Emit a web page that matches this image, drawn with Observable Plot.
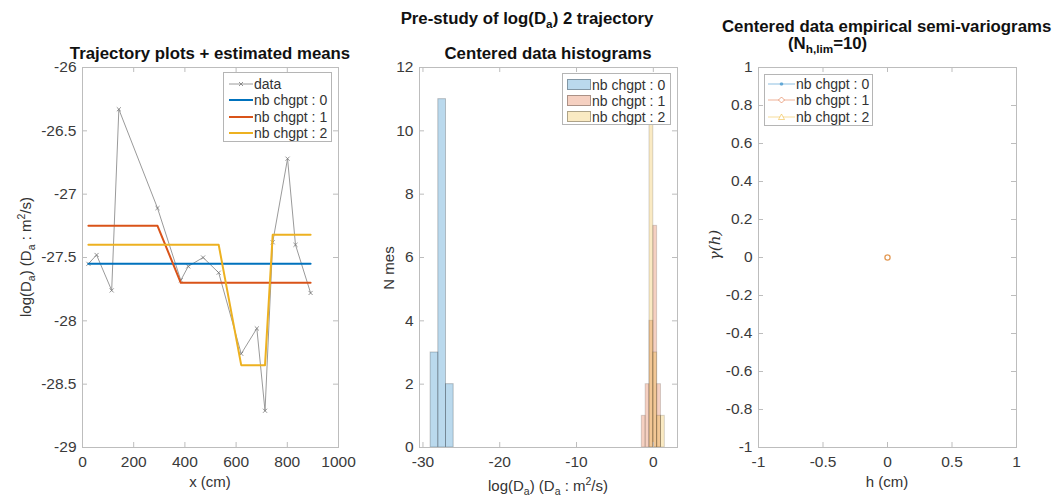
<!DOCTYPE html>
<html><head><meta charset="utf-8">
<script src="https://cdn.jsdelivr.net/npm/d3@7"></script>
<script src="https://cdn.jsdelivr.net/npm/@observablehq/plot@0.6"></script>
<style>
body{margin:0;background:#fff;font-family:"Liberation Sans",Arial,sans-serif;}
#wrap{position:relative;width:1054px;height:500px;overflow:hidden;background:#fff;}
.abs{position:absolute;white-space:nowrap;line-height:1;}
.ttl{font-weight:bold;font-size:16.8px;color:#111;}
.lab{font-size:15px;color:#333;}
.leg{position:absolute;background:#fff;border:1px solid #b5b5b5;box-sizing:border-box;}
.leg .row{position:absolute;font-size:14px;color:#333;white-space:nowrap;line-height:1;}
sub,sup{font-size:70%;line-height:0;}
</style></head><body><div id="wrap"></div>
<script>
// ---------- data ----------
const xPos = [23, 55, 114, 142, 293, 384, 413, 471, 532, 620, 681, 713, 743, 801, 832, 891];
const logD = [-27.55, -27.48, -27.76, -26.33, -27.11, -27.68, -27.57, -27.50, -27.62, -28.26, -28.06, -28.71, -27.38, -26.72, -27.40, -27.78];
const fit0 = [-27.55, -27.55, -27.55, -27.55, -27.55, -27.55, -27.55, -27.55, -27.55, -27.55, -27.55, -27.55, -27.55, -27.55, -27.55, -27.55];
const fit1 = [-27.25, -27.25, -27.25, -27.25, -27.25, -27.70, -27.70, -27.70, -27.70, -27.70, -27.70, -27.70, -27.70, -27.70, -27.70, -27.70];
const fit2 = [-27.40, -27.40, -27.40, -27.40, -27.40, -27.40, -27.40, -27.40, -27.40, -28.35, -28.35, -28.35, -27.32, -27.32, -27.32, -27.32];

const hist0Edges = [-29, -28, -27, -26];
const hist0Counts = [3, 11, 2];
const histCEdges = [-1.5, -1, -0.5, 0, 0.5, 1, 1.5];
const hist1Counts = [1, 2, 4, 7, 2, 0];
const hist2Counts = [0, 0, 11, 3, 1, 1];

const semiH = [0];
const semiG0 = [0];
const semiG1 = [0];
const semiG2 = [0];

const seriesLabels = ["nb chgpt : 0", "nb chgpt : 1", "nb chgpt : 2"];
const dataLabel = "data";

const xTicks1 = [0, 200, 400, 600, 800, 1000];
const yTicks1 = [-29, -28.5, -28, -27.5, -27, -26.5, -26];
const xTicks2 = [-30, -20, -10, 0];
const yTicks2 = [0, 2, 4, 6, 8, 10, 12];
const xTicks3 = [-1, -0.5, 0, 0.5, 1];
const yTicks3 = [-1, -0.8, -0.6, -0.4, -0.2, 0, 0.2, 0.4, 0.6, 0.8, 1];

// ---------- style ----------
const C = ["#0072BD", "#D95319", "#EDB120"];
const gray = "#9a9a9a";
const frameCol = "#bdbdbd";
const H = 500, MT = 67, MB = 53, PH = H - MT - MB;
const fmt = d => String(d);
const wrap = document.getElementById("wrap");

function boxAxes(xt, yt, pw) {
  return [
    Plot.frame({stroke: frameCol}),
    Plot.tickX(xt, {x: d => d, insetTop: PH - 5, stroke: frameCol}),
    Plot.tickX(xt, {x: d => d, insetBottom: PH - 5, stroke: frameCol}),
    Plot.tickY(yt, {y: d => d, insetLeft: pw - 5, stroke: frameCol}),
    Plot.tickY(yt, {y: d => d, insetRight: pw - 5, stroke: frameCol}),
    Plot.axisX(xt, {tickSize: 0, tickPadding: 8, tickFormat: fmt, label: null, fill: "#3a3a3a"}),
    Plot.axisY(yt, {tickSize: 0, tickPadding: 6, tickFormat: fmt, label: null, fill: "#3a3a3a"})
  ];
}
function place(svg, left) {
  svg.style.position = "absolute";
  svg.style.left = left + "px";
  svg.style.top = "0px";
  wrap.appendChild(svg);
}
const baseStyle = {fontFamily: "'Liberation Sans', Arial, sans-serif", fontSize: "15.5px", background: "transparent", overflow: "visible"};

// ---------- panel 1 ----------
{
  const W = 345, ML = 82, MR = 7;
  const pts = xPos.map((x, i) => ({x, y: logD[i], f0: fit0[i], f1: fit1[i], f2: fit2[i]}));
  const svg = Plot.plot({
    width: W, height: H, marginLeft: ML, marginRight: MR, marginTop: MT, marginBottom: MB,
    style: baseStyle,
    x: {domain: [0, 1000]}, y: {domain: [-29, -26]},
    marks: [
      ...boxAxes(xTicks1, yTicks1, W - ML - MR),
      Plot.line(pts, {x: "x", y: "y", stroke: gray, strokeWidth: 1}),
      Plot.dot(pts, {x: "x", y: "y", symbol: "times", r: 2, stroke: "#777", strokeWidth: 0.8}),
      Plot.line(pts, {x: "x", y: "f0", stroke: C[0], strokeWidth: 2}),
      Plot.line(pts, {x: "x", y: "f1", stroke: C[1], strokeWidth: 2}),
      Plot.line(pts, {x: "x", y: "f2", stroke: C[2], strokeWidth: 2})
    ]
  });
  place(svg, 0);
}

// ---------- panel 2 ----------
{
  const W = 335, ML = 69, MR = 8;
  const mk = (edges, counts) => counts.map((c, i) => ({x1: edges[i], x2: edges[i + 1], y: c})).filter(d => d.y > 0);
  const svg = Plot.plot({
    width: W, height: H, marginLeft: ML, marginRight: MR, marginTop: MT, marginBottom: MB,
    style: baseStyle,
    x: {domain: [-30.45, 3.15]}, y: {domain: [0, 12]},
    marks: [
      Plot.rectY(mk(hist0Edges, hist0Counts), {x1: "x1", x2: "x2", y: "y", fill: C[0], fillOpacity: 0.27, stroke: "#000", strokeOpacity: 0.22}),
      Plot.rectY(mk(histCEdges, hist1Counts), {x1: "x1", x2: "x2", y: "y", fill: C[1], fillOpacity: 0.27, stroke: "#000", strokeOpacity: 0.15}),
      Plot.rectY(mk(histCEdges, hist2Counts), {x1: "x1", x2: "x2", y: "y", fill: C[2], fillOpacity: 0.27, stroke: "#000", strokeOpacity: 0.15}),
      ...boxAxes(xTicks2, yTicks2, W - ML - MR)
    ]
  });
  place(svg, 350);
}

// ---------- panel 3 ----------
{
  const W = 364, ML = 68, MR = 38;
  const s1 = semiH.map((h, i) => ({h, g: semiG1[i]}));
  const svg = Plot.plot({
    width: W, height: H, marginLeft: ML, marginRight: MR, marginTop: MT, marginBottom: MB,
    style: baseStyle,
    x: {domain: [-1, 1]}, y: {domain: [-1, 1]},
    marks: [
      ...boxAxes(xTicks3, yTicks3, W - ML - MR),
      Plot.dot(s1, {x: "h", y: "g", symbol: "circle", r: 2.6, fill: "#fff", stroke: "#e39a55", strokeWidth: 1.3})
    ]
  });
  place(svg, 690);
}

// ---------- text ----------
function txt(html, x, y, cls, extra = "", rot = false) {
  const d = document.createElement("div");
  d.className = "abs " + cls;
  d.innerHTML = html;
  d.style.left = x + "px";
  d.style.top = y + "px";
  d.style.transform = "translate(-50%,-50%)" + (rot ? " rotate(-90deg)" : "");
  if (extra) d.style.cssText += extra;
  wrap.appendChild(d);
  return d;
}
function txtL(html, x, y, cls) {
  const d = document.createElement("div");
  d.className = "abs " + cls;
  d.innerHTML = html;
  d.style.left = x + "px";
  d.style.top = y + "px";
  d.style.transform = "translate(0,-50%)";
  wrap.appendChild(d);
}
const logLab = "log(D<sub>a</sub>) (D<sub>a</sub> : m<sup>2</sup>/s)";
txt("Pre-study of log(D<sub>a</sub>) 2 trajectory", 527, 19, "ttl");
txt("Trajectory plots + estimated means", 210, 54, "ttl");
txt("Centered data histograms", 548, 54, "ttl");
txtL("Centered data empirical semi-variograms", 722, 27, "ttl");
txtL("(N<sub>h,lim</sub>=10)", 788, 44, "ttl");
txt(logLab, 25, 257, "lab", "", true);
txt("x (cm)", 210, 481, "lab");
txt(logLab, 548, 485, "lab");
txt("N mes", 388, 268, "lab", "", true);
txt("h (cm)", 887, 481, "lab");
txt("γ(<i>h</i>)", 715, 245, "lab", "font-family:'DejaVu Serif',serif;font-style:italic;", true);

// ---------- legends ----------
function legend(left, top, w, h, first, step, items) {
  const b = document.createElement("div");
  b.className = "leg";
  b.style.left = left + "px"; b.style.top = top + "px";
  b.style.width = w + "px"; b.style.height = h + "px";
  items.forEach((it, i) => {
    const cy = first + i * step;
    const g = document.createElement("div");
    g.style.cssText = `position:absolute;left:0;top:${cy - 8}px;width:${w}px;height:16px;`;
    g.innerHTML = it.sample;
    b.appendChild(g);
    const r = document.createElement("div");
    r.className = "row";
    r.textContent = it.label;
    r.style.left = it.tx + "px";
    r.style.top = (cy - 8) + "px";
    r.style.height = "16px";
    r.style.lineHeight = "16px";
    b.appendChild(r);
  });
  wrap.appendChild(b);
}
const lineSample = (col, w, op = 1, marker = "") =>
  `<svg width="40" height="16" style="position:absolute;left:0;top:0;overflow:visible">
   <line x1="${w[0]}" x2="${w[1]}" y1="8" y2="8" stroke="${col}" stroke-width="${w[2]}" stroke-opacity="${op}"/>${marker}</svg>`;
legend(223, 72, 109, 70, 11, 16.3, [
  {label: dataLabel, tx: 30, sample: lineSample(gray, [5, 29, 1], 1, `<path d="M15,6l4,4M19,6l-4,4" stroke="#777" stroke-width="0.8"/>`)},
  {label: seriesLabels[0], tx: 30, sample: lineSample(C[0], [5, 29, 2])},
  {label: seriesLabels[1], tx: 30, sample: lineSample(C[1], [5, 29, 2])},
  {label: seriesLabels[2], tx: 30, sample: lineSample(C[2], [5, 29, 2])}
]);
const swatch = col => `<div style="position:absolute;left:4px;top:2px;width:24px;height:11px;box-sizing:border-box;background:${col};border:1px solid rgba(0,0,0,0.3)"></div>`;
legend(562, 73, 109, 52, 10.5, 16, [
  {label: seriesLabels[0], tx: 29, sample: swatch("rgba(0,114,189,0.27)")},
  {label: seriesLabels[1], tx: 29, sample: swatch("rgba(217,83,25,0.27)")},
  {label: seriesLabels[2], tx: 29, sample: swatch("rgba(237,177,32,0.27)")}
]);
legend(764, 74, 109, 52, 9, 16.3, [
  {label: seriesLabels[0], tx: 31, sample: lineSample(C[0], [3, 30, 1], 0.45, `<circle cx="16.5" cy="8" r="1.8" fill="${C[0]}" fill-opacity="0.5"/>`)},
  {label: seriesLabels[1], tx: 31, sample: lineSample(C[1], [3, 30, 1], 0.45, `<path d="M16.5,5l3,3l-3,3l-3,-3z" fill="#fff" stroke="${C[1]}" stroke-opacity="0.5"/>`)},
  {label: seriesLabels[2], tx: 31, sample: lineSample(C[2], [3, 30, 1], 0.45, `<path d="M16.5,5l3,5.5h-6z" fill="#fff" stroke="${C[2]}" stroke-opacity="0.5"/>`)}
]);
</script></body></html>
